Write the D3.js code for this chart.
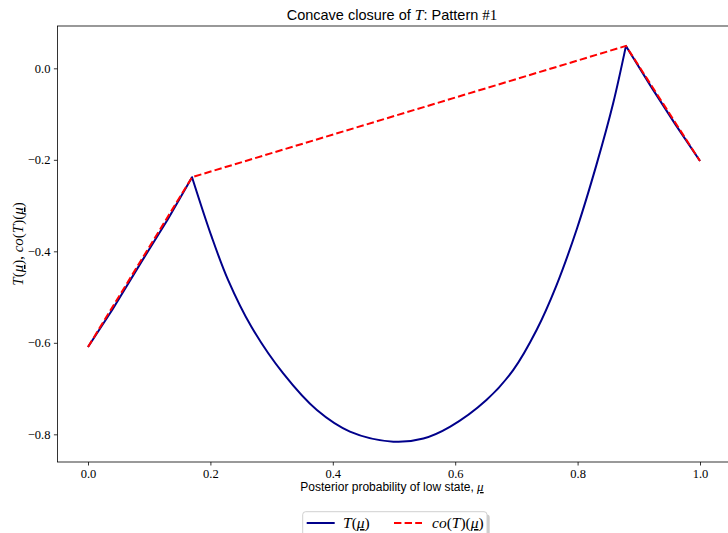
<!DOCTYPE html>
<html>
<head>
<meta charset="utf-8">
<script src="https://cdn.jsdelivr.net/npm/d3@7"></script>
<style>
  body { margin: 0; background: #fff; }
  .axis text { font-family: "Liberation Serif", serif; font-size: 12.5px; fill: #000; }
  .axis path, .axis line { stroke: #000; stroke-width: 0.8; }
  .sans { font-family: "Liberation Sans", "DejaVu Sans", sans-serif; }
  .math { font-family: "Liberation Serif", serif; font-style: italic; }
</style>
</head>
<body>
<svg id="svg1" width="728" height="533"></svg>
<script>
"use strict";

// T(mu): linear-ish piece on the left, the dip in the middle, piece on the right
const leftMu  = [0, 0.04, 0.085, 0.13, 0.17];
const leftT   = [-0.609, -0.527, -0.428, -0.331, -0.238];
const midMu   = [0.170, 0.202, 0.229, 0.267, 0.319, 0.374, 0.428, 0.499, 0.548,
                 0.592, 0.651, 0.695, 0.733, 0.765, 0.799, 0.831, 0.858, 0.879];
const midT    = [-0.238, -0.368, -0.463, -0.565, -0.667, -0.747, -0.794, -0.816, -0.809,
                 -0.783, -0.725, -0.659, -0.572, -0.476, -0.350, -0.210, -0.077, 0.049];
const rightMu = [0.879, 0.92, 0.96, 1.0];
const rightT  = [0.049, -0.040, -0.123, -0.2026];

// concave closure co(T)(mu)
const coMu  = [0, 0.17, 0.879, 1.0];
const coVal = [-0.609, -0.238, 0.049, -0.2026];

const xTicks = [0, 0.2, 0.4, 0.6, 0.8, 1.0];
const yTicks = [0, -0.2, -0.4, -0.6, -0.8];

const svg = d3.select("#svg1");
const margin = {top: 26, left: 57.4},
      width  = 673.2,
      height = 436;

const x = d3.scaleLinear().domain([-0.05, 1.05]).range([0, width]);
const y = d3.scaleLinear().domain([-0.8605, 0.0925]).range([height, 0]);

const g = svg.append("g").attr("transform", `translate(${margin.left},${margin.top})`);

// spines
g.append("rect")
  .attr("width", width).attr("height", height)
  .attr("fill", "none").attr("stroke", "#000").attr("stroke-width", 0.8);

g.append("g")
  .attr("class", "axis")
  .attr("transform", `translate(0,${height})`)
  .call(d3.axisBottom(x).tickValues(xTicks).tickFormat(d3.format(".1f")).tickSize(3.5).tickPadding(3.5))
  .call(a => a.select(".domain").remove());

g.append("g")
  .attr("class", "axis")
  .call(d3.axisLeft(y).tickValues(yTicks).tickFormat(d3.format(".1f")).tickSize(3.5).tickPadding(3.5))
  .call(a => a.select(".domain").remove());

const zip = (xs, ys) => xs.map((v, i) => [v, ys[i]]);
const lineLin = d3.line().x(d => x(d[0])).y(d => y(d[1]));
const lineCurve = d3.line().x(d => x(d[0])).y(d => y(d[1])).curve(d3.curveCatmullRom.alpha(0.5));

// join the three pieces into one path, the kinks stay sharp
let tPath = lineLin(zip(leftMu, leftT))
  + lineCurve(zip(midMu, midT)).replace(/^M/, "L")
  + lineLin(zip(rightMu, rightT)).replace(/^M/, "L");

g.append("path")
  .attr("d", tPath)
  .attr("fill", "none")
  .attr("stroke", "#00008b")
  .attr("stroke-width", 2)
  .attr("stroke-linejoin", "round");

g.append("path")
  .attr("d", lineLin(zip(coMu, coVal)))
  .attr("fill", "none")
  .attr("stroke", "#ff0000")
  .attr("stroke-width", 2)
  .attr("stroke-dasharray", "7.4,3.2");

// title
const title = svg.append("text")
  .attr("class", "sans")
  .attr("x", margin.left + width / 2 - 2)
  .attr("y", 20)
  .attr("text-anchor", "middle")
  .style("font-size", "14.5px");
title.append("tspan").text("Concave closure of ");
title.append("tspan").attr("class", "math").style("font-size", "15.5px").text("T");
title.append("tspan").text(": Pattern ");
title.append("tspan").style("font-family", "Liberation Serif, serif").style("font-size", "15px").text("#1");

// x label
const xl = svg.append("text")
  .attr("class", "sans")
  .attr("x", margin.left + width / 2 - 2)
  .attr("y", 491)
  .attr("text-anchor", "middle")
  .style("font-size", "12px");
xl.append("tspan").text("Posterior probability of low state, ");
xl.append("tspan").attr("class", "math").style("text-decoration", "underline").style("font-size", "13px").text("μ");

// y label
const yl = svg.append("text")
  .attr("class", "math")
  .attr("transform", `translate(23,${margin.top + height / 2}) rotate(-90)`)
  .attr("text-anchor", "middle")
  .style("font-size", "15px");
function mathPieces(sel, parts) {
  parts.forEach(p => {
    let t = sel.append("tspan").text(p[0]);
    if (!p[1]) t.style("font-style", "normal");
    if (p[2]) t.style("text-decoration", "underline");
  });
}
mathPieces(yl, [["T", 1], ["(", 0], ["μ", 1, 1], [")", 0], [", ", 0], ["co", 1], ["(", 0], ["T", 1], [")(", 0], ["μ", 1, 1], [")", 0]]);

// legend
const legendData = [
  { label: [["T", 1], ["(", 0], ["μ", 1, 1], [")", 0]], color: "#00008b", dash: null, x0: 306.7, tx: 343 },
  { label: [["co", 1], ["(", 0], ["T", 1], [")(", 0], ["μ", 1, 1], [")", 0]], color: "#ff0000", dash: "7.4,3.2", x0: 394, tx: 432 }
];

svg.append("rect")
  .attr("x", 305.4).attr("y", 514.4)
  .attr("width", 184.3).attr("height", 40)
  .attr("rx", 3).attr("fill", "#999").attr("opacity", 0.5);
svg.append("rect")
  .attr("x", 302.7).attr("y", 511.7)
  .attr("width", 184.3).attr("height", 40)
  .attr("rx", 3).attr("fill", "#fff").attr("stroke", "#d0d0d0").attr("stroke-width", 1);

const legend = svg.selectAll(".legend")
  .data(legendData)
  .enter()
  .append("g")
  .attr("class", "legend");

legend.append("line")
  .attr("x1", d => d.x0).attr("x2", d => d.x0 + 28)
  .attr("y1", 523).attr("y2", 523)
  .attr("stroke", d => d.color)
  .attr("stroke-width", 2)
  .attr("stroke-dasharray", d => d.dash);

legend.append("text")
  .attr("class", "math")
  .attr("x", d => d.tx)
  .attr("y", 528)
  .style("font-size", "15.5px")
  .each(function(d) { mathPieces(d3.select(this), d.label); });
</script>
</body>
</html>
